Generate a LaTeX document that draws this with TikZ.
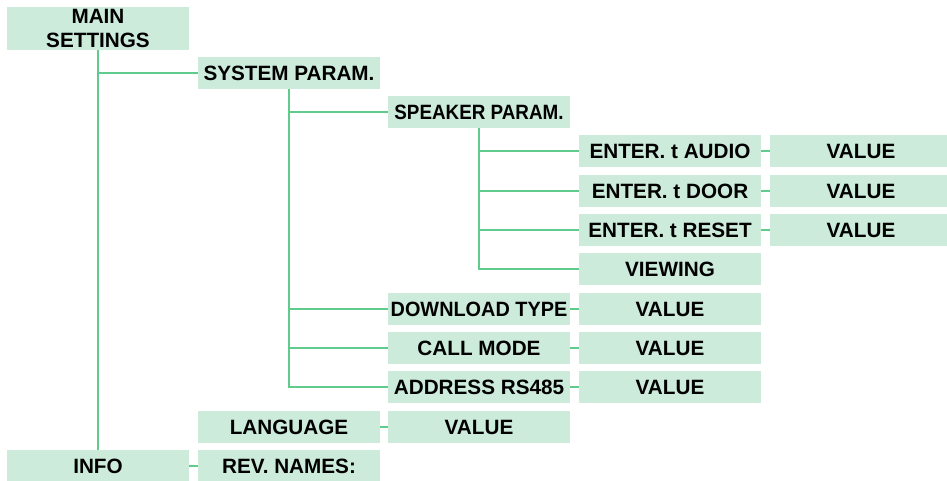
\documentclass[tikz,border=0pt]{standalone}
\usepackage{fontspec}
\setmainfont{Liberation Sans}
\definecolor{menufill}{RGB}{204,235,219}
\definecolor{menuline}{RGB}{95,203,140}
\tikzset{
    menu/.style={fill=menufill, minimum width=182pt, minimum height=32pt,
        inner sep=0pt, font=\fontsize{20.7}{24}\selectfont\bfseries},
    link/.style={draw=menuline, line width=1.6pt},
}
\begin{document}
\begin{tikzpicture}[x=1pt, y=-1pt]
    \useasboundingbox (0,0) rectangle (947,480);
    \node[menu, minimum height=43pt, align=center] (main) at (98,28.5) {MAIN\\SETTINGS};
    \foreach \x/\y/\txt/\name in {
        289/73/SYSTEM PARAM./sys,
        479/112/\scalebox{0.91}[1]{SPEAKER PARAM.}/spk,
        670/151/ENTER. t AUDIO/audio,  861/151/VALUE/valaudio,
        670/191/ENTER. t DOOR/door,    861/191/VALUE/valdoor,
        670/230/ENTER. t RESET/reset,  861/230/VALUE/valreset,
        670/269/VIEWING/view,
        479/309/\scalebox{0.96}[1]{DOWNLOAD TYPE}/dl, 670/309/VALUE/valdl,
        479/348/CALL MODE/call,        670/348/VALUE/valcall,
        479/387/ADDRESS RS485/addr,    670/387/VALUE/valaddr,
        289/427/LANGUAGE/lang,         479/427/VALUE/vallang,
        98/466/INFO/info,              289/466/REV. NAMES:/rev} {
        \node[menu] (\name) at (\x,\y) {\txt};
    }
    \draw[link] (main) -- (info);
    \draw[link] (main.south) |- (sys);
    \foreach \child in {spk, dl, call, addr}
        \draw[link] (sys.south) |- (\child);
    \foreach \child in {audio, door, reset, view}
        \draw[link] (spk.south) |- (\child);
    \foreach \a/\b in {audio/valaudio, door/valdoor, reset/valreset,
        dl/valdl, call/valcall, addr/valaddr, lang/vallang, info/rev}
        \draw[link] (\a) -- (\b);
\end{tikzpicture}
\end{document}
